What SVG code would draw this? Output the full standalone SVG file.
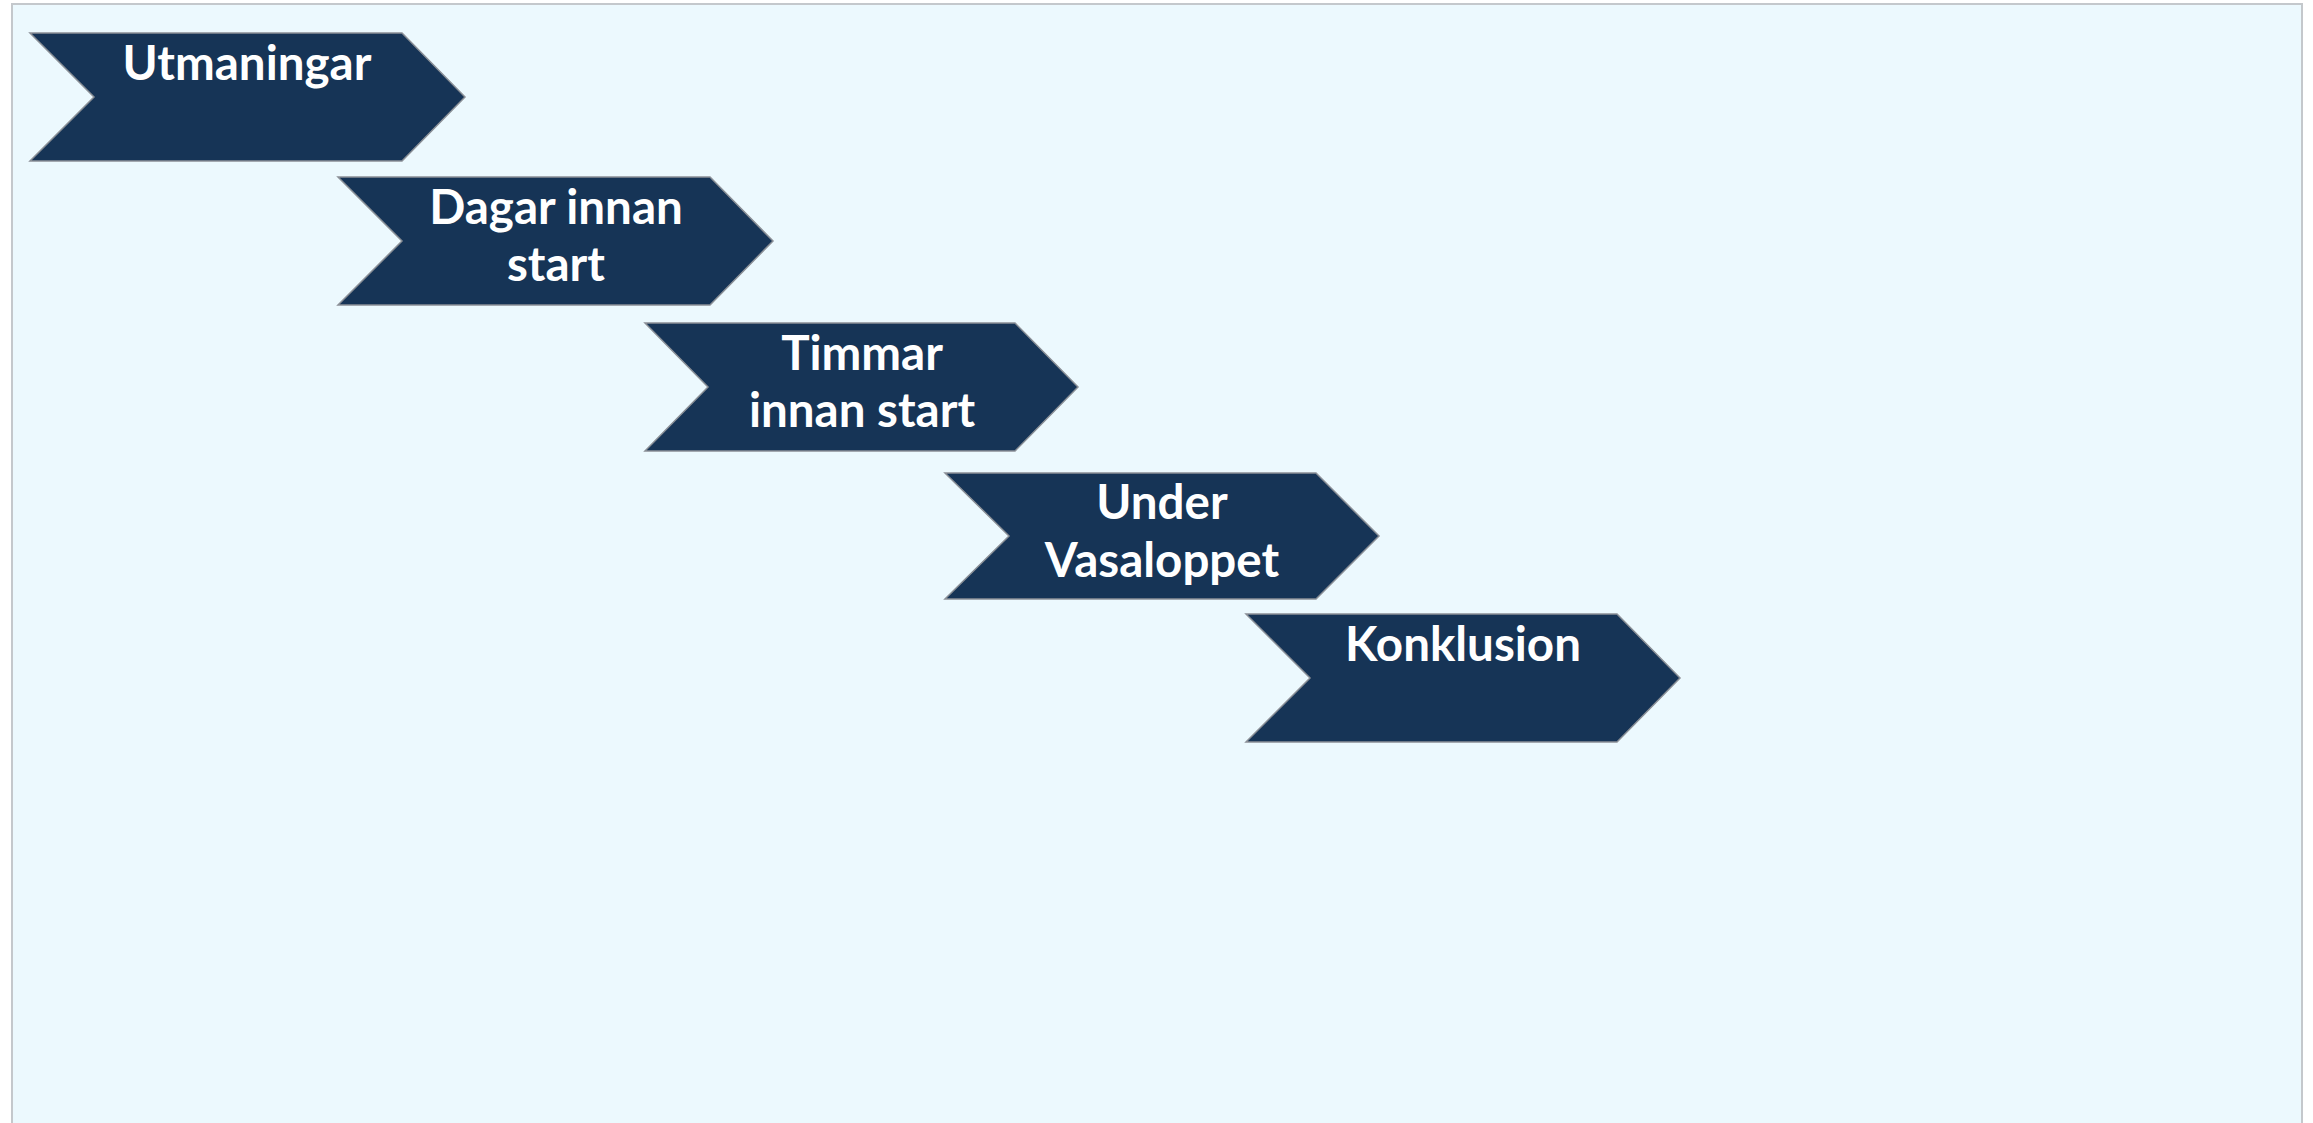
<svg xmlns="http://www.w3.org/2000/svg" width="2313" height="1123" viewBox="0 0 2313 1123">
<style>
.bg{fill:#ecf9fe;stroke:#c4c8cc;stroke-width:2}
.chev{fill:#163456;stroke:#8a8f96;stroke-width:1.5}
.lbl{font-family:Lato,"Open Sans",sans-serif;font-weight:700;font-size:47.5px;fill:#ffffff;text-anchor:middle}
</style>
<rect width="2313" height="1123" fill="#ffffff"/>
<rect class="bg" x="12" y="4" width="2290" height="1130"/>
<g id="node-utmaningar">
<polygon class="chev" points="30,33 402,33 465,97 402,161 30,161 94,97"/>
<text class="lbl" x="247" y="80">Utmaningar</text>
</g>
<g id="node-dagar">
<polygon class="chev" points="338,177 710,177 773,241 710,305 338,305 402,241"/>
<text class="lbl" x="556" y="224">Dagar innan</text>
<text class="lbl" x="556" y="281">start</text>
</g>
<g id="node-timmar">
<polygon class="chev" points="645,323 1015,323 1078,387 1015,451 645,451 708,387"/>
<text class="lbl" x="862" y="370">Timmar</text>
<text class="lbl" x="862" y="427">innan start</text>
</g>
<g id="node-under">
<polygon class="chev" points="945,473 1316,473 1379,536 1316,599 945,599 1009,536"/>
<text class="lbl" x="1162" y="519">Under</text>
<text class="lbl" x="1162" y="577">Vasaloppet</text>
</g>
<g id="node-konklusion">
<polygon class="chev" points="1246,614 1617,614 1680,678 1617,742 1246,742 1310,678"/>
<text class="lbl" x="1463" y="661">Konklusion</text>
</g>
<g id="connectors"></g>
</svg>
